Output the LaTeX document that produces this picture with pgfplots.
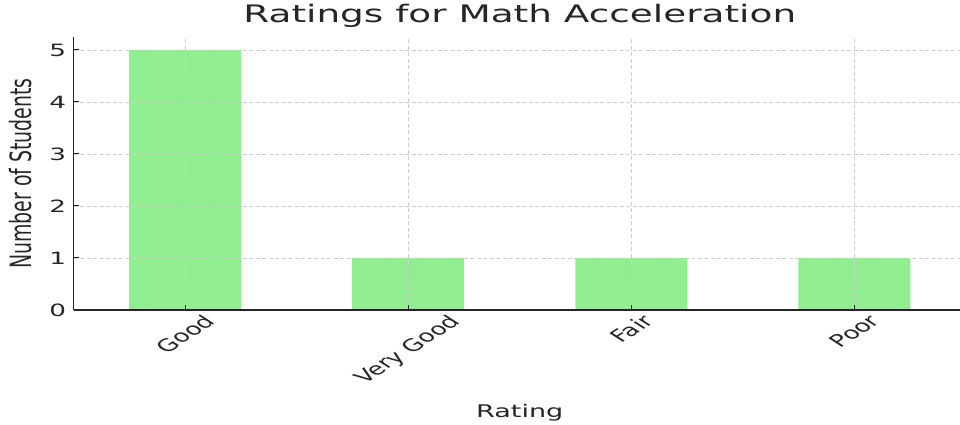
\documentclass[border=0pt]{standalone}
\usepackage{pgfplots}
\pgfplotsset{compat=1.18}
\usepackage{graphicx}
\usepackage{fontspec}
\setmainfont{DejaVu Sans}[FakeStretch=1.55]
\newfontfamily\plainfont{DejaVu Sans}
\definecolor{barg}{HTML}{90EE90}
\definecolor{txt}{HTML}{262626}
\newcommand{\rlab}[1]{\scalebox{1.55}[1]{\rotatebox{45}{\plainfont\fontsize{17}{17}\selectfont #1}}}
\begin{document}
\begin{tikzpicture}
\useasboundingbox (0,0) rectangle (960bp,425bp);
\begin{axis}[
  at={(73.5bp,115bp)}, anchor=south west,
  scale only axis, width=892.5bp, height=273bp,
  xmin=-0.5, xmax=3.5, ymin=0, ymax=5.25,
  axis x line*=bottom, axis y line*=left,
  axis line style={txt, line width=1.1bp, -},
  axis on top,
  ybar, bar width=112bp,
  xtick={0,1,2,3},
  xticklabels={\rlab{Good},\rlab{Very Good},\rlab{Fair},\rlab{Poor}},
  ytick={0,1,2,3,4,5},
  tick align=inside, major tick length=5bp,
  tick style={txt, line width=1bp},
  grid=major, grid style={dash pattern=on 4bp off 2.5bp, color=black!20, line width=0.8bp},
  x tick label style={anchor=north, text=txt},
  y tick label style={font=\fontsize{17}{17}\selectfont, text=txt, xshift=-4bp},
  /pgf/number format/assume math mode=true,
  title={Ratings for Math Acceleration},
  title style={font=\fontsize{24.2}{24.2}\selectfont, text=txt, at={(0.5,1)}, anchor=base, yshift=9bp},
  xlabel={Rating},
  xlabel style={font=\fontsize{17.5}{17.5}\selectfont, text=txt, at={(0.5,0)}, anchor=base, yshift=-107bp},
  ylabel={\scalebox{1.55}[1]{\rotatebox{90}{\plainfont\fontsize{19}{19}\selectfont Number of Students}}},
  ylabel style={rotate=-90, text=txt, at={(axis description cs:0,0.5)}, anchor=center, xshift=-52.5bp},
]
\addplot[fill=barg, draw=none] coordinates {(0,5) (1,1) (2,1) (3,1)};
\end{axis}
\end{tikzpicture}
\end{document}
